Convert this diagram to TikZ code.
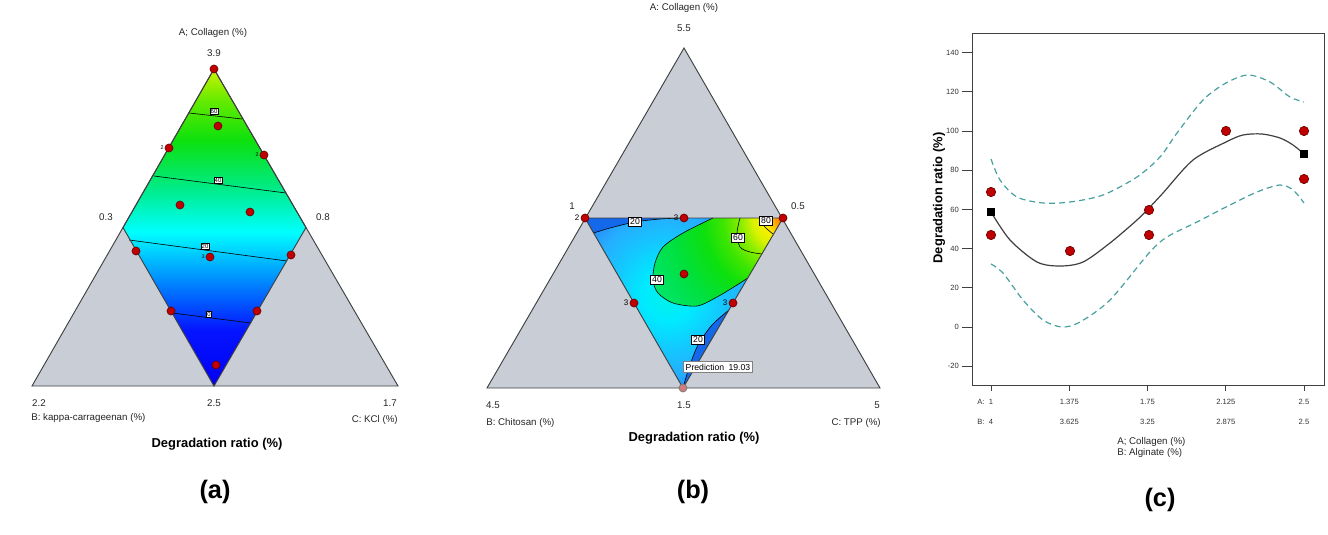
\documentclass[tikz,border=0pt]{standalone}
\usepackage{fontspec}
\setmainfont{Liberation Sans}
\usepackage{xcolor}
\usepackage{tikz}
\usetikzlibrary{calc}

\definecolor{ptred}{RGB}{192,0,0}
\definecolor{ptdark}{RGB}{105,0,0}
\definecolor{predpink}{RGB}{205,125,125}
\definecolor{plane}{RGB}{200,205,214}
\definecolor{edge}{RGB}{64,64,64}
\definecolor{band}{RGB}{72,160,160}
\definecolor{darkb}{RGB}{20,105,235}

\pgfdeclareverticalshading{degra}{100bp}{rgb(0bp)=(0,0,0.95); rgb(25bp)=(0,0,0.95); rgb(33.8bp)=(0.02,0.08,1); rgb(40.9bp)=(0,0.5,1); rgb(49.3bp)=(0,1,1); rgb(56.7bp)=(0,0.92,0.5); rgb(63.8bp)=(0.05,0.88,0.05); rgb(70.1bp)=(0.4,0.92,0); rgb(75bp)=(0.8,0.95,0); rgb(100bp)=(0.8,0.95,0)}
\pgfdeclareradialshading{degrb}{\pgfpoint{0bp}{0bp}}{rgb(0bp)=(1,0.45,0); rgb(1bp)=(1,0.62,0); rgb(2.3bp)=(1,0.93,0); rgb(3.8bp)=(0.85,0.95,0); rgb(5.3bp)=(0.55,0.93,0); rgb(7.5bp)=(0.25,0.9,0); rgb(10bp)=(0.05,0.88,0.05); rgb(14bp)=(0,0.88,0.25); rgb(19bp)=(0,0.9,0.45); rgb(25bp)=(0,0.9,0.5); rgb(50bp)=(0,0.9,0.5)}
\pgfdeclareradialshading{degrc}{\pgfpoint{0bp}{0bp}}{rgb(0bp)=(0,0.95,0.9); rgb(4.8bp)=(0,0.92,1); rgb(10.6bp)=(0.08,0.78,1); rgb(15.4bp)=(0.15,0.68,1); rgb(19.2bp)=(0.15,0.55,0.98); rgb(25bp)=(0.12,0.45,0.95); rgb(50bp)=(0.12,0.45,0.95)}

\begin{document}
\begin{tikzpicture}[x=0.75pt,y=-0.75pt]
  \tikzstyle{pt} = [circle,fill=ptred,draw=ptdark,line width=0.5pt,minimum size=6pt,inner sep=0pt]
  \tikzstyle{ptlab} = [font=\fontsize{4}{4}\selectfont,inner sep=0.6pt]
  \tikzstyle{ptlabb} = [font=\fontsize{6}{6}\selectfont,inner sep=0.8pt]
  \tikzstyle{sq} = [rectangle,fill=black,minimum size=6.6pt,inner sep=0pt]
  \tikzstyle{clab} = [draw,fill=white,line width=0.3pt,inner sep=0.7pt,font=\fontsize{4.5}{5}\selectfont]
  \tikzstyle{clabb} = [draw,fill=white,line width=0.4pt,inner sep=1.2pt,font=\fontsize{6.5}{7}\selectfont]
  \tikzstyle{axlab} = [font=\fontsize{7.3}{8}\selectfont,text=black!85,inner sep=0pt]
  \tikzstyle{ticklab} = [font=\fontsize{5.7}{6}\selectfont,text=black!80,inner sep=0pt]
  \tikzstyle{ttl} = [font=\bfseries\fontsize{9.7}{11}\selectfont,inner sep=0pt]
  \tikzstyle{panlab} = [font=\bfseries\fontsize{19}{21}\selectfont,inner sep=0pt]
  \tikzstyle{cline} = [line width=0.45pt,black]
  \tikzstyle{boxline} = [draw=edge,line width=0.7pt]
  %
  \fill[white] (0,0) rectangle (1328,535);
  \useasboundingbox (0,0) rectangle (1328,535);

  % First panel (a).
  \coordinate (aA) at (214,69);
  \coordinate (aB) at (32,386);
  \coordinate (aC) at (398,386);
  \coordinate (aL) at (123,227.5);
  \coordinate (aR) at (306,227.5);
  \coordinate (aM) at (214,386);
  \fill[plane] (aA) -- (aB) -- (aC) -- cycle;
  \shade[shading=degra] (aA) -- (aL) -- (aM) -- (aR) -- cycle;
  % Contour lines.
  \draw[cline] (189,113) -- (242,119) (154,176) -- (286,193) (129,240) -- (287,261) (172,313) -- (251,323);
  \draw[boxline] (aA) -- (aL) -- (aM) -- (aR) -- cycle;
  \draw[boxline] (aA) -- (aB) -- (aC) -- cycle;
  \node[clab] (a60) at (214,111) {60};
  \node[clab] (a40) at (218,180) {40};
  \node[clab] (a20) at (205,246) {20};
  \node[clab] (a0) at (209,314) {0};
  % Design points.
  \node[pt] (a1) at (aA) {};
  \node[pt] (a2) at (218,126) {};
  \node[pt,label={[ptlab]left:2}] (a3) at (169,148) {};
  \node[pt,label={[ptlab]left:2}] (a4) at (264,155) {};
  \node[pt] (a5) at (180,205) {};
  \node[pt] (a6) at (250,212) {};
  \node[pt] (a7) at (136,251) {};
  \node[pt,label={[ptlab]left:3}] (a8) at (210,257) {};
  \node[pt] (a9) at (291,255) {};
  \node[pt] (a10) at (171,311) {};
  \node[pt] (a11) at (257,311) {};
  \node[pt] (a12) at (216,365) {};
  % Axis texts.
  \node[axlab] (aTa) at (213,33) {A; Collagen (\%)};
  \node[axlab] (aVa) at (214,53) {3.9};
  \node[axlab] (aVl) at (106,217) {0.3};
  \node[axlab] (aVr) at (323,217) {0.8};
  \node[axlab] (aVb) at (39,403) {2.2};
  \node[axlab] (aVm) at (214,403) {2.5};
  \node[axlab] (aVc) at (390,403) {1.7};
  \node[axlab,anchor=west] (aTb) at (31,418) {B: kappa-carrageenan (\%)};
  \node[axlab,anchor=east] (aTc) at (398,420) {C: KCl (\%)};
  \node[ttl] (aT) at (217,444) {Degradation ratio (\%)};
  \node[panlab] (aP) at (215,492) {(a)};

  % Second panel (b).
  \coordinate (bA) at (684,48);
  \coordinate (bB) at (487,388);
  \coordinate (bC) at (880,388);
  \coordinate (bL) at (585,218);
  \coordinate (bR) at (783,218);
  \coordinate (bM) at (683,388);
  \fill[plane] (bA) -- (bB) -- (bC) -- cycle;
  \begin{scope}
    \clip (bL) -- (bR) -- (bM) -- cycle;
    \shade[shading=degrc] (668,295) circle (130);
    \begin{scope}
      \clip plot[smooth] coordinates {(713,218) (683,233) (663,247) (655,263) (653,280) (658,293) (673,303) (697,306) (717,297) (737,285) (747.7,278)} -- (bR) -- cycle;
      \shade[shading=degrb] (bR) circle (200);
    \end{scope}
    \fill[darkb] plot[smooth] coordinates {(593.6,233) (610,228) (635,222) (660,219) (683,218)} -- (bL) -- cycle;
    \fill[darkb] plot[smooth] coordinates {(684,384) (690,365) (698,345) (712,325) (729,310)} -- (bM) -- cycle;
  \end{scope}
  % Contour lines.
  \draw[cline] plot[smooth] coordinates {(713,218) (683,233) (663,247) (655,263) (653,280) (658,293) (673,303) (697,306) (717,297) (737,285) (747.7,278)};
  \draw[cline] plot[smooth] coordinates {(740,218) (737,233) (740,247) (750,252) (762,254)};
  \draw[cline] plot[smooth] coordinates {(759,218) (765,227) (773,234)};
  \draw[cline] plot[smooth] coordinates {(593.6,233) (610,228) (635,222) (660,219) (683,218)};
  \draw[cline] plot[smooth] coordinates {(684,384) (690,365) (698,345) (712,325) (729,310)};
  \draw[boxline] (bL) -- (bR) -- (bM) -- cycle;
  \draw[boxline] (bA) -- (bB) -- (bC) -- cycle;
  \node[clabb] (b20a) at (635,222) {20};
  \node[clabb] (b40) at (657,280) {40};
  \node[clabb] (b60) at (738,238) {60};
  \node[clabb] (b80) at (766,221) {80};
  \node[clabb] (b20b) at (698,340) {20};
  % Design points.
  \node[pt,label={[ptlabb]left:2}] (b1) at (bL) {};
  \node[pt,label={[ptlabb]left:3}] (b2) at (684,218) {};
  \node[pt] (b3) at (bR) {};
  \node[pt] (b4) at (684,274) {};
  \node[pt,label={[ptlabb]left:3}] (b5) at (634,303) {};
  \node[pt,label={[ptlabb]left:3}] (b6) at (733,303) {};
  \node[pt,fill=predpink,draw=black!55] (b7) at (bM) {};
  \node[draw=black!50,fill=white,line width=0.6pt,inner sep=1.5pt,font=\fontsize{6.5}{7}\selectfont] (bPred) at (718,367) {Prediction\enspace 19.03};
  % Axis texts.
  \node[axlab] (bTa) at (684,8) {A: Collagen (\%)};
  \node[axlab] (bVa) at (684,28) {5.5};
  \node[axlab] (bVl) at (572,206) {1};
  \node[axlab] (bVr) at (798,206) {0.5};
  \node[axlab] (bVb) at (493,405) {4.5};
  \node[axlab] (bVm) at (684,405) {1.5};
  \node[axlab] (bVc) at (877,405) {5};
  \node[axlab,anchor=west] (bTb) at (486,423) {B: Chitosan (\%)};
  \node[axlab,anchor=east] (bTc) at (881,423) {C: TPP (\%)};
  \node[ttl] (bT) at (694,438) {Degradation ratio (\%)};
  \node[panlab] (bP) at (693,492) {(b)};

  % Third panel (c).
  \draw[boxline] (972,33) rectangle (1324,385);
  \foreach \v/\y in {140/52.6,120/91.8,100/131,80/170.2,60/209.4,40/248.6,20/287.8,0/327,-20/366.2}{
    \draw[boxline] (962,\y) -- (972,\y);
    \node[ticklab,anchor=east] (cy\v) at (959,\y) {\v};
  }
  \foreach \x/\a/\b in {991/1/4,1069.3/1.375/3.625,1147.5/1.75/3.25,1225.8/2.125/2.875,1304/2.5/2.5}{
    \draw[boxline] (\x,385) -- (\x,391);
    \node[ticklab] (cxa\a) at (\x,402) {\a};
    \node[ticklab] (cxb\b) at (\x,422) {\b};
  }
  \node[ticklab] (cxA) at (981,402) {A:};
  \node[ticklab] (cxB) at (981,422) {B:};
  % Draw bands and fit.
  \draw[band,dash pattern=on 4.5pt off 3pt,line width=0.9pt] plot[smooth] coordinates {(991,159) (1000,180) (1017,197) (1043,203) (1070,202) (1103,195) (1137,177) (1160,157) (1177,133) (1203,100) (1226,83) (1248,75) (1270,82) (1290,97) (1304,102)};
  \draw[band,dash pattern=on 4.5pt off 3pt,line width=0.9pt] plot[smooth] coordinates {(991,264) (1003,273) (1023,300) (1043,320) (1062,327) (1080,322) (1110,300) (1149,253) (1167,237) (1197,222) (1226,207) (1257,192) (1280,185) (1293,190) (1304,203)};
  \draw[black!75,line width=0.9pt] plot[smooth] coordinates {(991,212) (1010,240) (1037,262) (1060,266) (1083,262) (1110,243) (1137,220) (1149,208) (1163,193) (1193,160) (1226,142) (1243,135) (1262,134) (1280,138) (1293,145) (1304,154)};
  % Design points.
  \node[pt,minimum size=7pt] (c1) at (991,192) {};
  \node[pt,minimum size=7pt] (c2) at (991,235) {};
  \node[pt,minimum size=7pt] (c3) at (1070,251) {};
  \node[pt,minimum size=7pt] (c4) at (1149,210) {};
  \node[pt,minimum size=7pt] (c5) at (1149,235) {};
  \node[pt,minimum size=7pt] (c6) at (1226,131) {};
  \node[pt,minimum size=7pt] (c7) at (1304,131) {};
  \node[pt,minimum size=7pt] (c8) at (1304,179) {};
  \node[sq] (s1) at (991,212) {};
  \node[sq] (s2) at (1304,154) {};
  % Axis texts.
  \node[ttl,rotate=90] (cTy) at (939,198) {Degradation ratio (\%)};
  \node[axlab,anchor=west] (cTa) at (1117,442) {A; Collagen (\%)};
  \node[axlab,anchor=west] (cTb) at (1117,453) {B: Alginate (\%)};
  \node[panlab] (cP) at (1160,500) {(c)};
\end{tikzpicture}
\end{document}
